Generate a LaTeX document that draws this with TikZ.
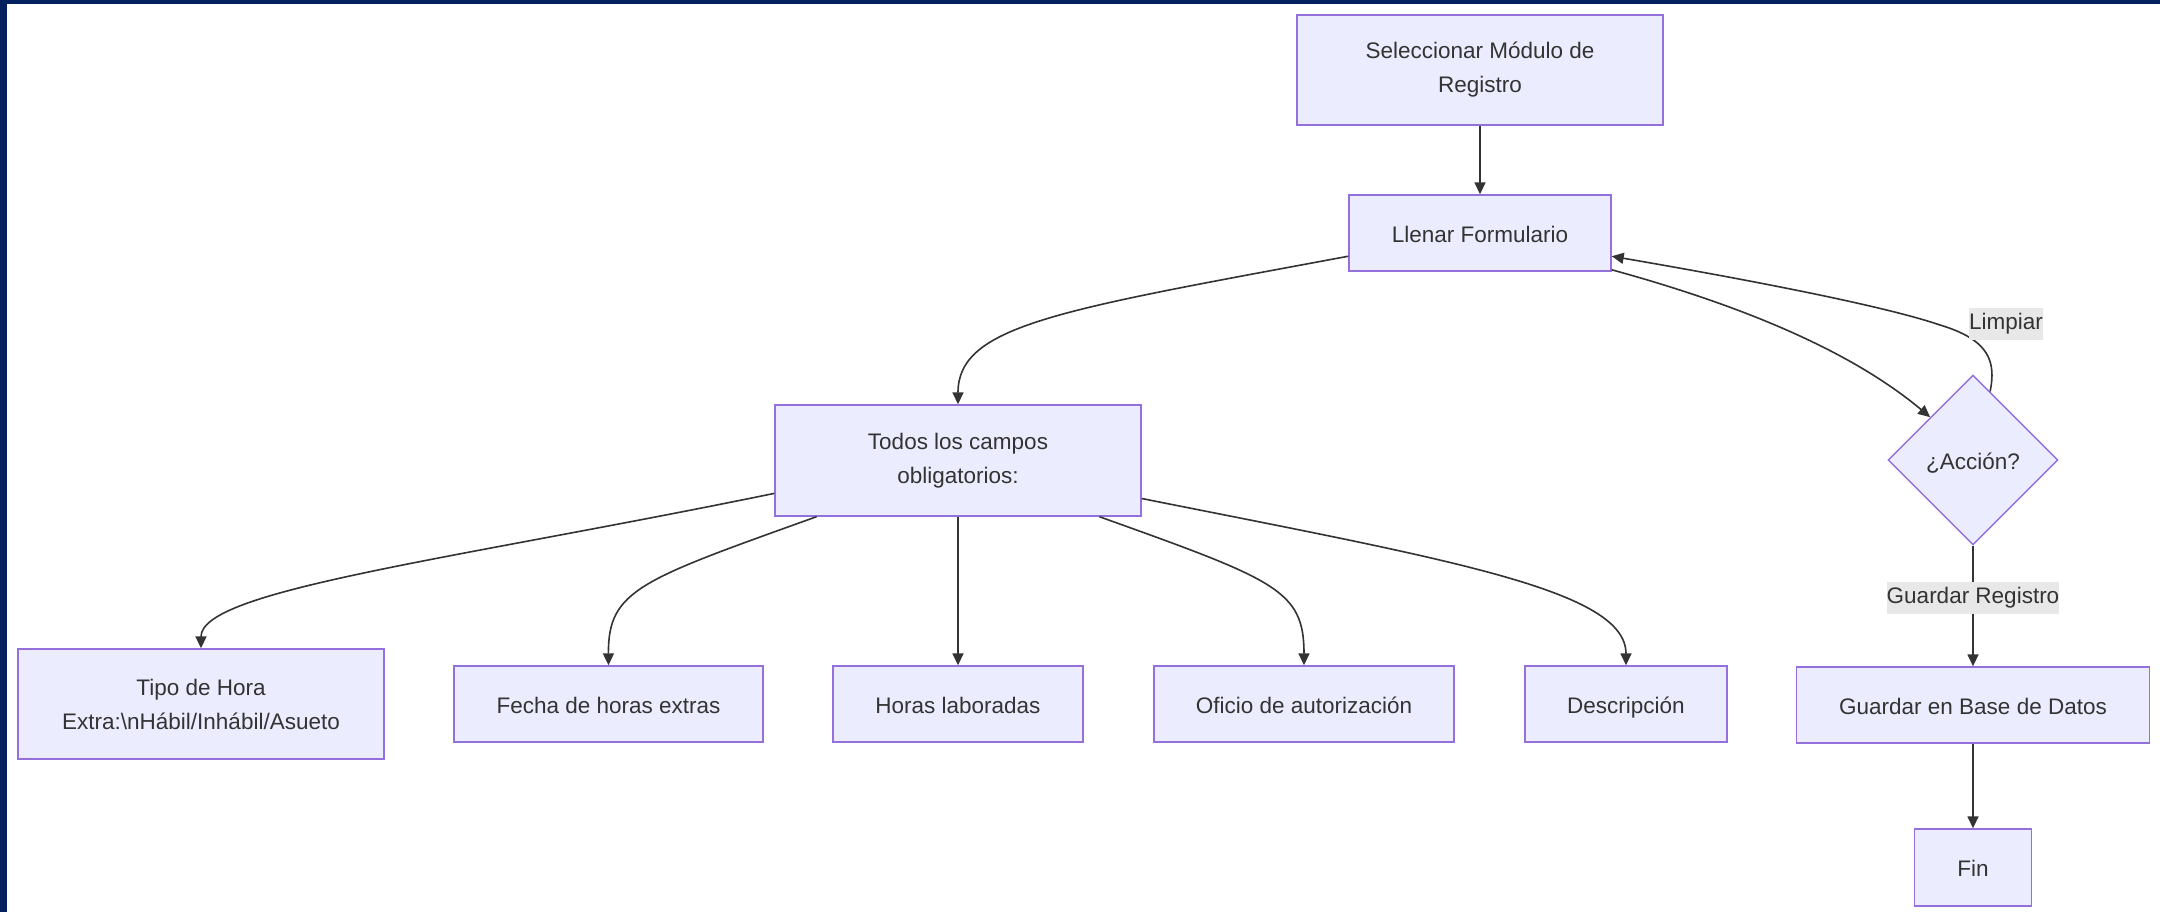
\documentclass[tikz,border=0pt]{standalone}
\usepackage{fontspec}
\setmainfont{Liberation Sans}
\usetikzlibrary{arrows.meta,shapes.geometric,calc}
\definecolor{navy}{RGB}{2,33,94}
\definecolor{nodefill}{HTML}{ECECFF}
\definecolor{nodeline}{HTML}{9370DB}
\definecolor{edgecol}{HTML}{333333}
\definecolor{txtcol}{HTML}{333333}
\definecolor{lblbg}{HTML}{E8E8E8}
\tikzset{
 box/.style={draw=nodeline, fill=nodefill, line width=0.7pt, inner sep=0pt, align=center, text=txtcol, font=\fontsize{11.25pt}{17pt}\selectfont},
 oneline/.style={text height=10.4pt, text depth=1.2pt},
 dia/.style={box, oneline, diamond, aspect=1},
 edge/.style={draw=edgecol, line width=0.8pt, -{Triangle[length=6pt,width=5.5pt]}},
 elabel/.style={fill=lblbg, inner xsep=0pt, inner ysep=0pt, minimum height=16pt, text=txtcol, font=\fontsize{11.25pt}{17pt}\selectfont}
}
\begin{document}
\begin{tikzpicture}[x=0.5pt,y=-0.5pt]
\useasboundingbox (0,0) rectangle (2160,912);
\fill[white] (0,0) rectangle (2160,912);
\fill[navy] (0,0) rectangle (2160,4);
\fill[navy] (0,0) rectangle (7,912);

\node[box, minimum width=183pt, minimum height=55pt] (sel) at (1480,70) {Seleccionar Módulo de\\Registro};
\node[box, oneline, minimum width=131pt, minimum height=38pt] (llenar) at (1480,233) {Llenar Formulario};
\node[box, minimum width=183pt, minimum height=55.5pt] (todos) at (958,460.5) {Todos los campos\\obligatorios:};
\node[dia, minimum width=85pt, minimum height=85pt] (accion) at (1973,460) {¿Acción?};
\node[box, minimum width=183pt, minimum height=55pt] (tipo) at (201,704) {Tipo de Hora\\Extra:\textbackslash nHábil/Inhábil/Asueto};
\node[box, oneline, minimum width=154.5pt, minimum height=38pt] (fecha) at (608.5,704) {Fecha de horas extras};
\node[box, oneline, minimum width=125pt, minimum height=38pt] (horas) at (958,704) {Horas laboradas};
\node[box, oneline, minimum width=150pt, minimum height=38pt] (oficio) at (1304,704) {Oficio de autorización};
\node[box, oneline, minimum width=101pt, minimum height=38pt] (desc) at (1626,704) {Descripción};
\node[box, oneline, minimum width=176.5pt, minimum height=38pt] (gbd) at (1973,705) {Guardar en Base de Datos};
\node[box, oneline, minimum width=58.5pt, minimum height=38.5pt] (fin) at (1973,867.5) {Fin};

\draw[edge] (sel) -- (llenar);
\draw[edge] ($(llenar.west)!0.6!(llenar.south west)$) .. controls (1060,310) and (958,325) .. (todos.north);
\draw[edge] ($(llenar.east)!0.95!(llenar.south east)$) .. controls (1740,305) and (1850,350) .. (accion.north west);
\draw[edge] ($(accion.north)!0.2!(accion.east)$) .. controls (1996,362) and (1990,340) .. (1940,325) .. controls (1870,301) and (1680,268) .. ($(llenar.east)!0.6!(llenar.south east)$);
\node[elabel] (lLimpiar) at (2006,323.5) {Limpiar};
\draw[edge] (accion) -- node[elabel, pos=0.43] (lGuardar) {Guardar Registro} (gbd);
\draw[edge] (gbd) -- (fin);

\draw[edge] ($(todos.west)!0.585!(todos.south west)$) .. controls (450,560) and (201,590) .. (tipo.north);
\draw[edge] ($(todos.south west)!0.115!(todos.south east)$) .. controls (640,580) and (608,590) .. (fecha.north);
\draw[edge] (todos) -- (horas);
\draw[edge] ($(todos.south west)!0.885!(todos.south east)$) .. controls (1276,580) and (1304,590) .. (oficio.north);
\draw[edge] ($(todos.east)!0.676!(todos.south east)$) .. controls (1450,560) and (1626,590) .. (desc.north);
\end{tikzpicture}
\end{document}
